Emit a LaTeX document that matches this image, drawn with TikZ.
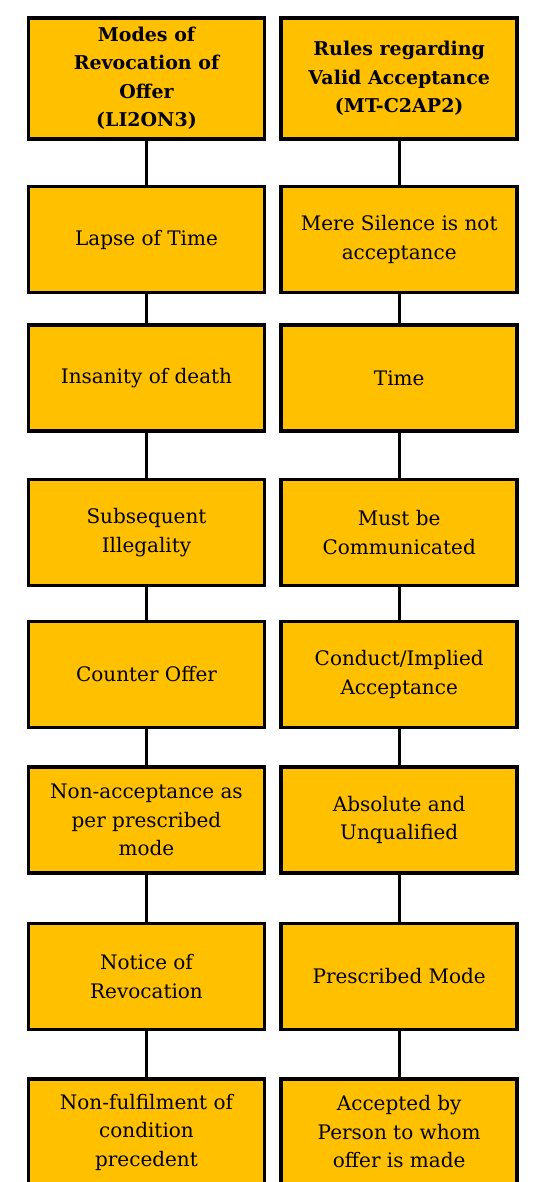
\documentclass[tikz,border=0pt]{standalone}
\usepackage{fontspec}
\setmainfont{DejaVu Serif}
\usetikzlibrary{positioning}
\definecolor{gold}{HTML}{FFC000}

\begin{document}
\begin{tikzpicture}[x=1pt, y=1pt,
  box/.style={draw, line width=3.5pt, fill=gold, align=center, minimum width=236pt, minimum height=106pt, inner sep=2pt, font=\fontsize{20}{28.5}\selectfont},
  head/.style={box, minimum height=121pt, font=\fontsize{19}{28.5}\selectfont\bfseries},
  link/.style={line width=3pt}]
\useasboundingbox (0,0) rectangle (538,-1182);
\clip (0,0) rectangle (538,-1182);
% left column: revocation of offer
\node[head] (rev) at (146.5,-78.4) {Modes of\\Revocation of\\Offer\\(LI2ON3)};
\node[box] (lapse) at (146.5,-239.5) {Lapse of Time};
\node[box] (insane) at (146.5,-378) {Insanity of death};
\node[box] (illegal) at (146.5,-532.5) {Subsequent\\Illegality};
\node[box] (counter) at (146.5,-674.5) {Counter Offer};
\node[box] (nonacc) at (146.5,-820) {Non-acceptance as\\per prescribed\\mode};
\node[box] (notice) at (146.5,-976.5) {Notice of\\Revocation};
\node[box] (nonful) at (146.5,-1132) {Non-fulfilment of\\condition\\precedent};
% right column: valid acceptance
\node[head] (rules) at (399.2,-78.4) {Rules regarding\\Valid Acceptance\\(MT-C2AP2)};
\node[box] (silence) at (399.2,-239.5) {Mere Silence is not\\acceptance};
\node[box] (time) at (399.2,-378) {Time};
\node[box] (comm) at (399.2,-532.5) {Must be\\Communicated};
\node[box] (conduct) at (399.2,-674.5) {Conduct/Implied\\Acceptance};
\node[box] (absolute) at (399.2,-820) {Absolute and\\Unqualified};
\node[box] (mode) at (399.2,-976.5) {Prescribed Mode};
\node[box] (person) at (399.2,-1132) {Accepted by\\Person to whom\\offer is made};
% connectors
\draw[link] (rev) -- (lapse);
\draw[link] (lapse) -- (insane);
\draw[link] (insane) -- (illegal);
\draw[link] (illegal) -- (counter);
\draw[link] (counter) -- (nonacc);
\draw[link] (nonacc) -- (notice);
\draw[link] (notice) -- (nonful);
\draw[link] (rules) -- (silence);
\draw[link] (silence) -- (time);
\draw[link] (time) -- (comm);
\draw[link] (comm) -- (conduct);
\draw[link] (conduct) -- (absolute);
\draw[link] (absolute) -- (mode);
\draw[link] (mode) -- (person);
\end{tikzpicture}
\end{document}
